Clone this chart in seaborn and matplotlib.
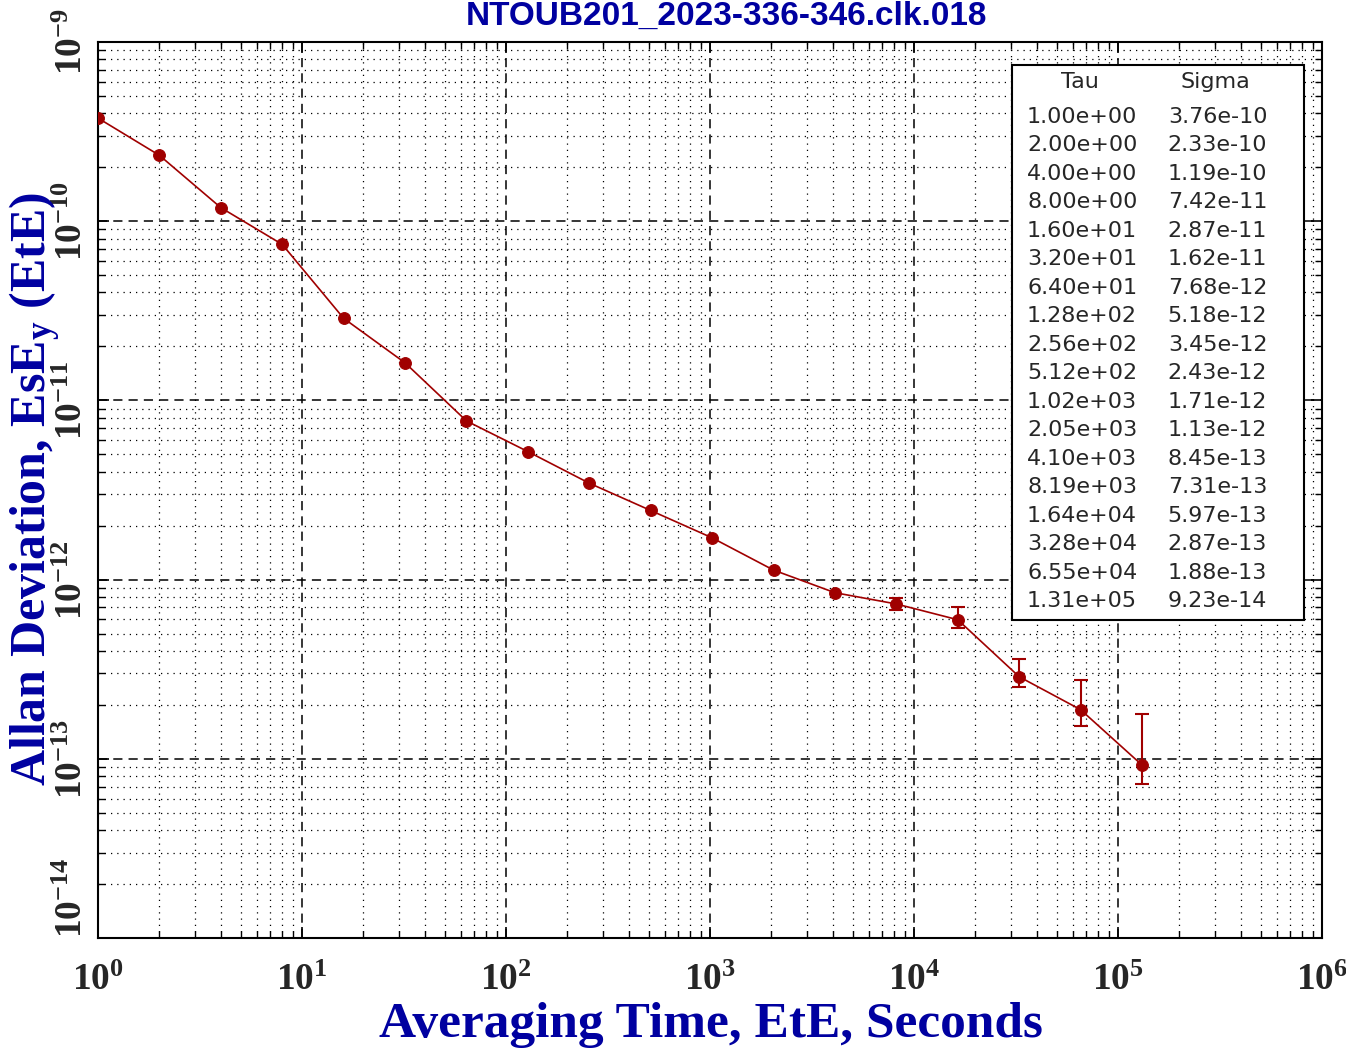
import numpy as np
import pandas as pd
import matplotlib
matplotlib.use("Agg")
import matplotlib.pyplot as plt
import matplotlib.transforms as mtransforms
import seaborn as sns
from matplotlib.ticker import LogLocator, FuncFormatter, NullFormatter
from matplotlib.patches import Rectangle

# data
tau = [1, 2, 4, 8, 16, 32, 64, 128, 256, 512, 1024, 2048, 4096, 8192,
       16384, 32768, 65536, 131072]
sigma = [3.76e-10, 2.33e-10, 1.19e-10, 7.42e-11, 2.87e-11, 1.62e-11,
         7.68e-12, 5.18e-12, 3.45e-12, 2.43e-12, 1.71e-12, 1.13e-12,
         8.45e-13, 7.31e-13, 5.97e-13, 2.87e-13, 1.88e-13, 9.23e-14]

# error bar bounds (only the visible ones)
err_tau = [8192, 16384, 32768, 65536, 131072]
err_sigma = [7.31e-13, 5.97e-13, 2.87e-13, 1.88e-13, 9.23e-14]
err_low = [6.8e-13, 5.4e-13, 2.5e-13, 1.53e-13, 7.2e-14]
err_high = [7.9e-13, 7.0e-13, 3.6e-13, 2.76e-13, 1.78e-13]

title = "NTOUB201_2023-336-346.clk.018"
ymin, ymax = 1e-14, 1e-9

sns.set_style("ticks")
plt.rcParams["mathtext.fontset"] = "custom"
plt.rcParams["mathtext.rm"] = "Liberation Serif"
plt.rcParams["mathtext.bf"] = "Liberation Serif:bold"
plt.rcParams["mathtext.it"] = "Liberation Serif:italic:bold"

blue = "#0000a0"
red = "#a00000"

fig = plt.figure(figsize=(13.46, 10.49), dpi=100)
ax = fig.add_axes([0.0728, 0.1058, 0.9094, 0.8542])

df = pd.DataFrame({"tau": tau, "sigma": sigma})
sns.lineplot(data=df, x="tau", y="sigma", ax=ax, color=red, lw=1.2,
             marker="o", markersize=8.5, markeredgecolor=red, zorder=5)

yerr = [np.array(err_sigma) - np.array(err_low), np.array(err_high) - np.array(err_sigma)]
ax.errorbar(err_tau, err_sigma, yerr=yerr, fmt="none", ecolor=red,
            elinewidth=1.5, capsize=5, capthick=1.5, zorder=5)

ax.set_xscale("log")
ax.set_yscale("log")
ax.set_xlim(1, 1e6)
ax.set_ylim(ymin, ymax)

for axis in [ax.xaxis, ax.yaxis]:
    axis.set_major_locator(LogLocator(base=10, numticks=20))
    axis.set_minor_locator(LogLocator(base=10, subs=np.arange(2, 10), numticks=20))
    axis.set_minor_formatter(NullFormatter())


def pow_label(v):
    return r"$\mathbf{10^{%d}}$" % int(round(np.log10(v)))


ax.xaxis.set_major_formatter(FuncFormatter(lambda v, p: pow_label(v)))
# the bottom y label is drawn by hand below, lifted above its tick
ax.yaxis.set_major_formatter(FuncFormatter(
    lambda v, p: "" if np.isclose(v, ymin, rtol=1e-6, atol=0) else pow_label(v)))

ax.grid(which="major", color="black", linestyle=(0, (6, 4)), lw=1.1)
ax.grid(which="minor", color="black", linestyle=(0, (1, 4)), lw=0.9)
ax.tick_params(which="both", direction="in", top=True, right=True, color="black")
ax.tick_params(which="major", length=8, width=1.2)
ax.tick_params(which="minor", length=5, width=1)
ax.tick_params(axis="x", labelsize=27, pad=17)
ax.tick_params(axis="y", labelsize=27, pad=6, labelrotation=90)
for lab in ax.get_yticklabels():
    lab.set_va("center")

trans = mtransforms.blended_transform_factory(ax.transAxes, ax.transData)
trans = trans + mtransforms.ScaledTranslation(-6 / 72, 0, fig.dpi_scale_trans)
ax.text(0, ymin, pow_label(ymin), transform=trans, rotation=90, fontsize=27,
        ha="right", va="bottom")

for s in ax.spines.values():
    s.set_linewidth(1.5)
    s.set_color("black")

ax.set_xlabel("")
ax.set_ylabel("")
fig.text(711 / 1346, 1 - 1025 / 1049, "Averaging Time, EtE, Seconds", fontsize=37,
         color=blue, fontfamily="Liberation Serif", fontweight="bold",
         ha="center", va="center")
fig.text(35 / 1346, 1 - 489 / 1049, r"Allan Deviation, EsE$_\mathbf{y}$ (EtE)",
         fontsize=36, color=blue, fontfamily="Liberation Serif", fontweight="bold",
         ha="center", va="center", rotation=90)

fig.text(0.540, 0.984, title, fontsize=24, color=blue, fontweight="bold",
         fontfamily="Liberation Sans", ha="center", va="center")

# table of values
ax.add_patch(Rectangle((0.747, 0.355), 0.238, 0.619, transform=ax.transAxes,
                       facecolor="white", edgecolor="black", lw=1.5, zorder=6))
ax.text(0.802, 0.955, "Tau", transform=ax.transAxes, ha="center", va="center",
        fontsize=16, fontfamily="DejaVu Sans", zorder=7)
ax.text(0.9126, 0.955, "Sigma", transform=ax.transAxes, ha="center", va="center",
        fontsize=16, fontfamily="DejaVu Sans", zorder=7)
row_h = 28.47 / 896
for i, (t, s) in enumerate(zip(tau, sigma)):
    y = (938 - 117) / 896 - i * row_h
    ax.text(0.759, y, f"{t:.2e}", transform=ax.transAxes, ha="left", va="center",
            fontsize=16, fontfamily="DejaVu Sans", zorder=7)
    ax.text(0.874, y, f"{s:.2e}", transform=ax.transAxes, ha="left", va="center",
            fontsize=16, fontfamily="DejaVu Sans", zorder=7)

fig.savefig("out.png", dpi=100)
